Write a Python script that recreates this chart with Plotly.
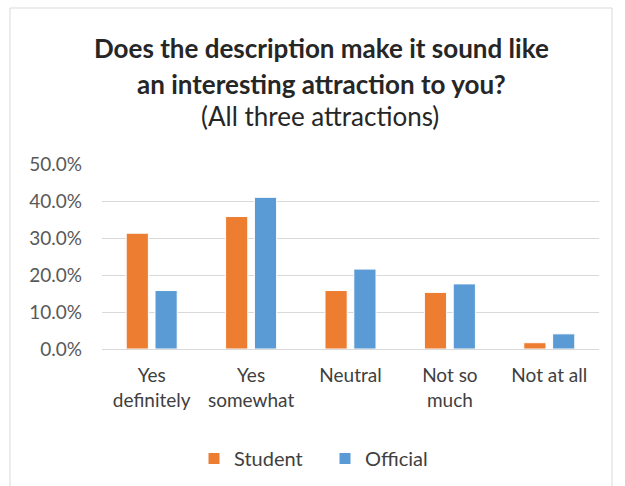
import plotly.graph_objects as go

categories = ["Yes<br>definitely", "Yes<br>somewhat", "Neutral", "Not so<br>much", "Not at all"]
student = [0.313, 0.358, 0.158, 0.153, 0.017]
official = [0.158, 0.410, 0.216, 0.176, 0.041]
tick_vals = [0, 0.1, 0.2, 0.3, 0.4, 0.5]
tick_text = ["0.0%", "10.0%", "20.0%", "30.0%", "40.0%", "50.0%"]

FONT = "Lato"
fig = go.Figure()
fig.add_trace(go.Bar(name="Student", x=categories, y=student,
                     marker=dict(color="#ED7D31", line=dict(color="white", width=1))))
fig.add_trace(go.Bar(name="Official", x=categories, y=official,
                     marker=dict(color="#5B9BD5", line=dict(color="white", width=1))))

def px(x):
    return (x - 102) / 497

def py(y):
    return (349 - y) / 185

fig.update_layout(
    width=625, height=486,
    margin=dict(l=102, r=26, t=164, b=137, autoexpand=False),
    paper_bgcolor="white", plot_bgcolor="white",
    barmode="group", bargap=0.42, bargroupgap=0.23,
    font=dict(family=FONT, color="#595959", size=19),
    showlegend=True,
    legend=dict(orientation="h", x=px(208 - 14), xanchor="left", y=py(439), yanchor="top",
                font=dict(size=20, color="#404040"), entrywidth=86, entrywidthmode="pixels",
                traceorder="normal"),
    yaxis=dict(range=[0, 0.5], tickvals=tick_vals, ticktext=tick_text,
               showgrid=True, gridcolor="#D9D9D9", gridwidth=1, zeroline=False,
               showline=False, ticks="", ticklabelstandoff=19, automargin=False,
               tickfont=dict(size=19, color="#595959")),
    xaxis=dict(showline=True, linecolor="#D9D9D9", linewidth=1, ticks="", ticklabelstandoff=9,
               automargin=False, tickfont=dict(size=19, color="#404040")),
    shapes=[dict(type="rect", xref="paper", yref="paper",
                 x0=px(10), x1=px(612), y0=py(490), y1=py(8),
                 line=dict(color="#D9D9D9", width=1), fillcolor="rgba(0,0,0,0)", layer="below")],
    annotations=[
        dict(text="<b>Does the description make it sound like</b>", xref="paper", yref="paper",
             x=px(321), y=py(48), showarrow=False, xanchor="center", yanchor="middle",
             font=dict(size=26, color="#262626", family=FONT)),
        dict(text="<b>an interesting attraction to you?</b>", xref="paper", yref="paper",
             x=px(321), y=py(84), showarrow=False, xanchor="center", yanchor="middle",
             font=dict(size=26, color="#262626", family=FONT)),
        dict(text="(All three attractions)", xref="paper", yref="paper",
             x=px(320), y=py(116), showarrow=False, xanchor="center", yanchor="middle",
             font=dict(size=26, color="#262626", family=FONT)),
    ],
)
fig.write_html("out.html")
